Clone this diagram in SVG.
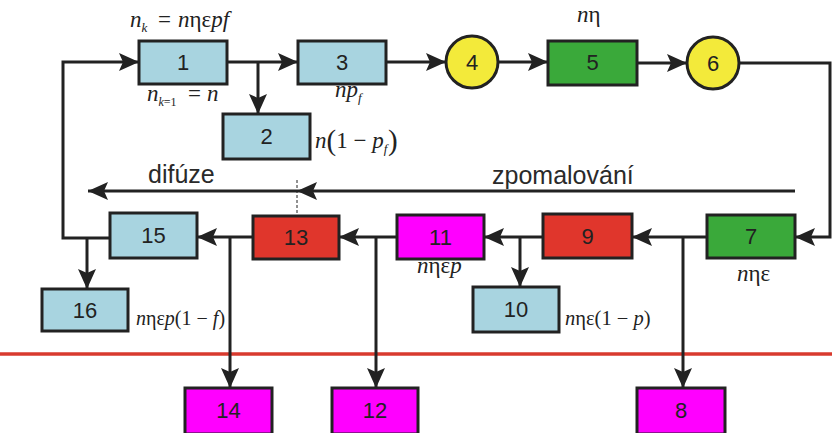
<svg xmlns="http://www.w3.org/2000/svg" width="832" height="433" viewBox="0 0 832 433">
<style>
.box{stroke:#222;stroke-width:3}
.blue{fill:#a8d4e0}.green{fill:#3aa93a}.red{fill:#e0362c}.mag{fill:#ff00ff}.yel{fill:#f3ea3a}
.num{font-family:"Liberation Sans",Arial,sans-serif;font-size:22px;fill:#222;text-anchor:middle}
.lbl{font-family:"Liberation Sans",Arial,sans-serif;font-size:25px;fill:#2a2a2a}
.math{font-family:"Liberation Serif","Times New Roman",serif;font-style:italic;font-size:23px;fill:#222}
.up{font-style:normal}
.conn path{fill:none;stroke:#222;stroke-width:3}
</style>
<defs>
<marker id="ah" markerUnits="userSpaceOnUse" markerWidth="22" markerHeight="20" refX="20" refY="9" orient="auto">
<path d="M0,0 L20,9 L0,18 L4,9 z" fill="#222"/>
</marker>
</defs>
<rect width="832" height="433" fill="#fff"/>
<path d="M0,354 H832" stroke="#d83a2e" stroke-width="3.5" fill="none"/>
<g class="conn">
<path d="M227,62 H298" marker-end="url(#ah)"/>
<path d="M258,62 V114" marker-end="url(#ah)"/>
<path d="M386,62 H446" marker-end="url(#ah)"/>
<path d="M498,62 H548" marker-end="url(#ah)"/>
<path d="M637,63 H687" marker-end="url(#ah)"/>
<path d="M739,63 H830 V237 H795" marker-end="url(#ah)"/>
<path d="M707,237 H632" marker-end="url(#ah)"/>
<path d="M683,237 V388" marker-end="url(#ah)"/>
<path d="M543,237 H484" marker-end="url(#ah)"/>
<path d="M520,237 V287" marker-end="url(#ah)"/>
<path d="M397,237 H339" marker-end="url(#ah)"/>
<path d="M376,237 V388" marker-end="url(#ah)"/>
<path d="M253,237 H197" marker-end="url(#ah)"/>
<path d="M230,237 V388" marker-end="url(#ah)"/>
<path d="M110,238 H63 V62 H139" marker-end="url(#ah)"/>
<path d="M87,238 V289" marker-end="url(#ah)"/>
<path d="M795,191 H297" marker-end="url(#ah)"/>
<path d="M297,191 H88" marker-end="url(#ah)"/>
<path d="M297,180 V215" style="stroke-width:1;stroke-dasharray:3,2"/>
</g>
<g id="n1"><rect class="box blue" x="139" y="41" width="88" height="43"/><text class="num" x="183" y="70">1</text></g>
<g id="n2"><rect class="box blue" x="223" y="114" width="87" height="45"/><text class="num" x="266.5" y="144">2</text></g>
<g id="n3"><rect class="box blue" x="298" y="41" width="88" height="43"/><text class="num" x="342" y="70">3</text></g>
<g id="n4"><circle class="box yel" cx="472" cy="62" r="26"/><text class="num" x="472" y="70">4</text></g>
<g id="n5"><rect class="box green" x="548" y="41" width="89" height="44"/><text class="num" x="592.5" y="70">5</text></g>
<g id="n6"><circle class="box yel" cx="713" cy="63" r="26"/><text class="num" x="713" y="71">6</text></g>
<g id="n7"><rect class="box green" x="707" y="215" width="88" height="43"/><text class="num" x="751" y="244">7</text></g>
<g id="n8"><rect class="box mag" x="637" y="388" width="88" height="46"/><text class="num" x="681" y="418">8</text></g>
<g id="n9"><rect class="box red" x="543" y="214" width="89" height="44"/><text class="num" x="587.5" y="244">9</text></g>
<g id="n10"><rect class="box blue" x="473" y="287" width="86" height="45"/><text class="num" x="516" y="317">10</text></g>
<g id="n11"><rect class="box mag" x="397" y="215" width="87" height="44"/><text class="num" x="440.5" y="245">11</text></g>
<g id="n12"><rect class="box mag" x="332" y="388" width="86" height="46"/><text class="num" x="375" y="418">12</text></g>
<g id="n13"><rect class="box red" x="253" y="216" width="86" height="43"/><text class="num" x="296" y="245">13</text></g>
<g id="n14"><rect class="box mag" x="185" y="388" width="87" height="46"/><text class="num" x="228.5" y="418">14</text></g>
<g id="n15"><rect class="box blue" x="110" y="213" width="87" height="45"/><text class="num" x="153.5" y="243">15</text></g>
<g id="n16"><rect class="box blue" x="42" y="289" width="86" height="42"/><text class="num" x="85" y="318">16</text></g>
<g id="labels">
<text class="lbl" x="148" y="183">difúze</text>
<text class="lbl" x="492" y="184">zpomalování</text>
<text class="math" x="130" y="27">n<tspan font-size="13" dy="5">k</tspan><tspan class="up" dy="-5" x="158">=</tspan><tspan x="178">n</tspan><tspan class="up">ηε</tspan>pf</text>
<text class="math" x="147" y="101">n<tspan font-size="12" dy="5">k</tspan><tspan class="up" font-size="12">=1</tspan><tspan class="up" dy="-5" x="188">=</tspan><tspan x="207">n</tspan></text>
<text class="math" x="335" y="97">np<tspan font-size="13" dy="5">f</tspan></text>
<text class="math" x="315" y="148">n<tspan class="up" font-size="29" dy="2">(</tspan><tspan class="up" dy="-2">1 − </tspan>p<tspan font-size="13" dy="5">f</tspan><tspan class="up" font-size="29" dy="-3" x="388">)</tspan></text>
<text class="math" x="577" y="22">n<tspan class="up">η</tspan></text>
<text class="math" x="737" y="281">n<tspan class="up">ηε</tspan></text>
<text class="math" x="417" y="273">n<tspan class="up">ηε</tspan>p</text>
<text class="math" x="565" y="325" style="font-size:20.5px">n<tspan class="up">ηε(1 − </tspan>p<tspan class="up">)</tspan></text>
<text class="math" x="136" y="325" style="font-size:20px">n<tspan class="up">ηε</tspan>p<tspan class="up">(1 − </tspan>f<tspan class="up">)</tspan></text>
</g>
</svg>
